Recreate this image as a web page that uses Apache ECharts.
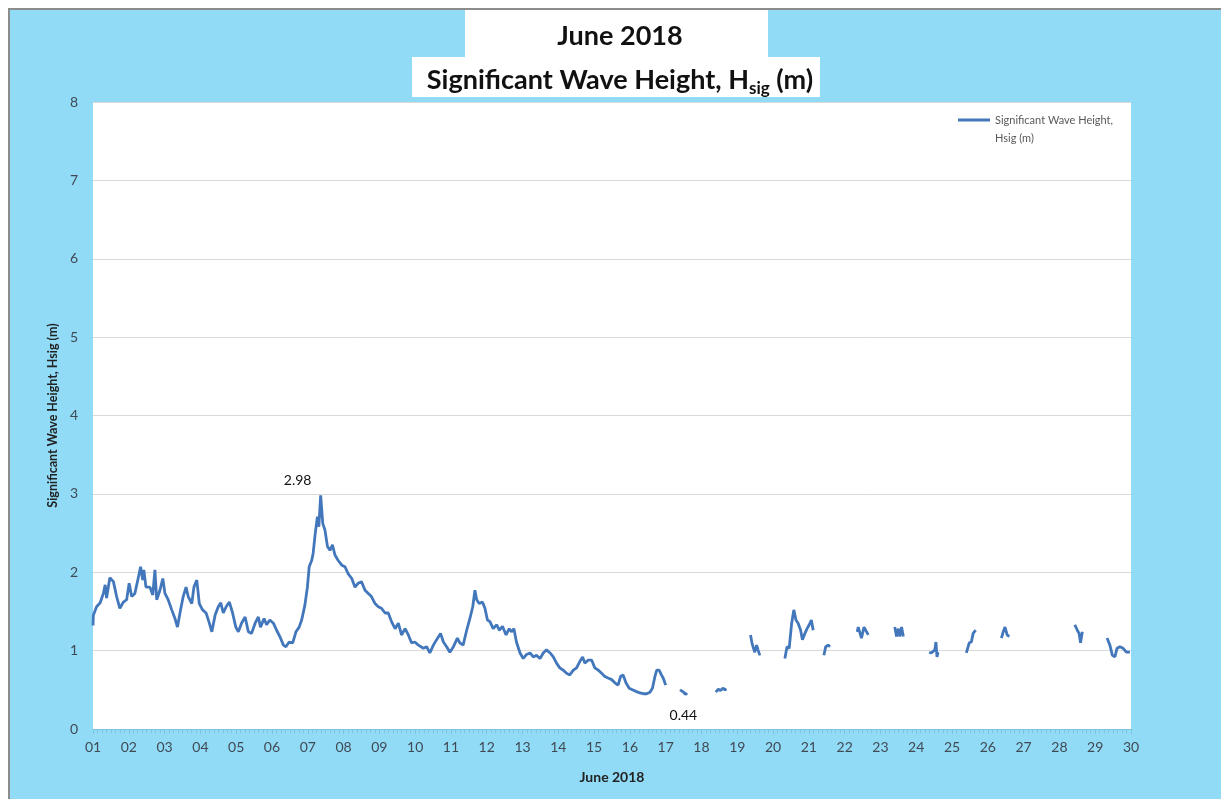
<!DOCTYPE html>
<html>
<head>
<meta charset="utf-8">
<script src="https://cdn.jsdelivr.net/npm/echarts@6/dist/echarts.min.js"></script>
<style>
html,body{margin:0;padding:0;background:#fff;}
#chart{width:1221px;height:799px;}
</style>
</head>
<body>
<div id="chart"></div>
<script>
// Day of month (decimal) and significant wave height (m); null = data gap
const days = [
1.00,1.01,1.10,1.20,1.29,1.34,1.38,1.47,1.57,1.66,1.75,1.85,1.94,2.01,2.08,2.17,2.27,2.33,2.39,2.42,2.48,2.59,2.67,2.73,2.78,2.87,2.95,
3.01,3.10,3.20,3.29,3.36,3.43,3.52,3.60,3.66,3.76,3.82,3.90,3.97,4.06,4.16,4.25,4.32,4.41,4.50,4.57,4.64,4.72,4.81,4.90,4.99,
5.06,5.15,5.25,5.34,5.43,5.53,5.62,5.68,5.78,5.85,5.94,6.04,6.13,6.22,6.32,6.39,6.48,6.58,6.67,6.76,6.83,6.92,6.99,
7.04,7.11,7.15,7.21,7.27,7.31,7.36,7.42,7.48,7.55,7.62,7.69,7.76,7.85,7.95,8.04,8.13,8.23,8.32,8.41,8.50,8.60,8.69,8.78,8.88,8.97,
9.06,9.16,9.25,9.34,9.44,9.53,9.62,9.72,9.81,9.90,9.99,10.09,10.23,10.32,10.41,10.51,10.60,10.71,10.79,10.88,10.97,
11.07,11.18,11.25,11.34,11.44,11.53,11.61,11.67,11.72,11.79,11.88,11.95,12.02,12.09,12.18,12.28,12.35,12.44,12.54,12.63,12.69,12.76,12.83,12.93,
13.02,13.11,13.21,13.30,13.39,13.49,13.58,13.67,13.77,13.86,13.95,14.04,14.14,14.23,14.32,14.42,14.51,14.60,14.68,14.74,14.84,14.93,
15.02,15.12,15.21,15.30,15.39,15.49,15.58,15.67,15.74,15.81,15.89,15.98,16.07,16.17,16.28,16.37,16.47,16.56,16.63,16.70,16.75,16.82,16.88,16.93,17.00,
17.20,
17.40,17.45,17.50,17.55,17.60,
18.00,
18.40,18.47,18.53,18.60,18.66,18.70,
19.00,
19.37,19.41,19.44,19.49,19.54,19.58,19.63,
20.00,
20.33,20.39,20.45,20.52,20.58,20.64,20.70,20.77,20.82,20.89,20.95,21.01,21.07,21.12,
21.25,
21.42,21.47,21.54,21.59,
22.00,
22.35,22.38,22.47,22.54,22.59,22.66,
23.00,
23.40,23.45,23.50,23.54,23.59,23.64,
24.00,
24.36,24.42,24.52,24.55,24.58,24.61,
25.00,
25.40,25.48,25.54,25.59,25.66,
26.00,
26.38,26.43,26.48,26.54,26.60,
27.00,
28.43,28.50,28.55,28.59,28.64,
29.00,
29.33,29.41,29.48,29.55,29.61,29.69,29.78,29.87,29.97
];
const hsig = [
1.32,1.45,1.56,1.61,1.73,1.84,1.67,1.93,1.88,1.69,1.54,1.62,1.65,1.86,1.69,1.73,1.94,2.07,1.90,2.03,1.81,1.81,1.71,2.03,1.65,1.77,1.92,
1.73,1.65,1.52,1.41,1.30,1.48,1.69,1.81,1.69,1.60,1.81,1.90,1.60,1.52,1.48,1.35,1.24,1.45,1.56,1.61,1.48,1.56,1.62,1.48,1.30,
1.24,1.35,1.43,1.24,1.22,1.35,1.43,1.30,1.41,1.33,1.39,1.35,1.26,1.18,1.07,1.05,1.11,1.10,1.24,1.30,1.39,1.58,1.81,
2.07,2.15,2.24,2.50,2.71,2.58,2.98,2.62,2.54,2.33,2.28,2.35,2.22,2.15,2.09,2.07,1.98,1.92,1.81,1.86,1.88,1.77,1.73,1.69,1.60,1.56,
1.54,1.48,1.48,1.37,1.28,1.35,1.20,1.28,1.20,1.10,1.11,1.07,1.03,1.05,0.97,1.07,1.14,1.22,1.11,1.05,0.98,
1.05,1.16,1.10,1.07,1.26,1.41,1.56,1.77,1.65,1.60,1.62,1.54,1.39,1.37,1.28,1.33,1.26,1.31,1.20,1.28,1.24,1.28,1.11,0.97,
0.90,0.95,0.97,0.92,0.94,0.90,0.97,1.01,0.97,0.92,0.84,0.78,0.75,0.71,0.69,0.75,0.78,0.86,0.92,0.84,0.88,0.88,
0.78,0.75,0.71,0.67,0.65,0.63,0.59,0.56,0.67,0.69,0.59,0.52,0.50,0.48,0.46,0.45,0.45,0.47,0.52,0.67,0.75,0.75,0.69,0.65,0.56,
null,
0.50,0.48,0.47,0.44,0.46,
null,
0.47,0.51,0.49,0.52,0.50,0.51,
null,
1.20,1.10,1.05,0.98,1.07,1.01,0.94,
null,
0.90,1.05,1.03,1.35,1.52,1.39,1.35,1.26,1.14,1.22,1.28,1.33,1.39,1.26,
null,
0.94,1.05,1.07,1.05,
null,
1.24,1.30,1.16,1.30,1.28,1.20,
null,
1.30,1.18,1.28,1.18,1.30,1.18,
null,
0.98,0.97,1.01,1.11,0.92,0.98,
null,
0.97,1.10,1.11,1.22,1.26,
null,
1.16,1.24,1.30,1.20,1.18,
null,
1.33,1.26,1.22,1.10,1.24,
null,
1.16,1.07,0.94,0.92,1.03,1.05,1.03,0.98,0.98
];
const xTickDays = [1, 30];
const yTicks = [0, 8];
const annotations = [
  { day: 7.36, value: 2.98, text: '2.98' },
  { day: 17.55, value: 0.44, text: '0.44' }
];

const seriesData = days.map((d, i) => [d, hsig[i] === null ? '-' : hsig[i]]);

const FONT = 'Lato, "Liberation Sans", sans-serif';
const BLUE_BG = '#91dbf6';

const chart = echarts.init(document.getElementById('chart'), null, { renderer: 'canvas' });
chart.setOption({
  animation: false,
  backgroundColor: BLUE_BG,
  graphic: [
    { type: 'rect', shape: { x: 0, y: 0, width: 1221, height: 8 }, style: { fill: '#ffffff' }, silent: true },
    { type: 'rect', shape: { x: 0, y: 0, width: 8, height: 799 }, style: { fill: '#ffffff' }, silent: true },
    { type: 'rect', shape: { x: 8, y: 8, width: 1213, height: 2 }, style: { fill: '#8c8c8c' }, silent: true },
    { type: 'rect', shape: { x: 8, y: 8, width: 2, height: 791 }, style: { fill: '#8c8c8c' }, silent: true },
    { type: 'rect', shape: { x: 465, y: 10, width: 303, height: 48 }, style: { fill: '#ffffff' }, silent: true },
    { type: 'rect', shape: { x: 412, y: 57, width: 408, height: 40 }, style: { fill: '#ffffff' }, silent: true }
  ],
  title: [
    {
      text: 'June 2018',
      left: 615, textAlign: 'center', top: 18,
      textStyle: { fontFamily: FONT, fontSize: 27, fontWeight: 'bold', color: '#111' }
    },
    {
      text: '{a|Significant Wave Height, H}{s|sig}{a| (m)}',
      left: 615, textAlign: 'center', top: 59,
      textStyle: {
        rich: {
          a: { fontFamily: FONT, fontSize: 27, fontWeight: 'bold', color: '#111', lineHeight: 33 },
          s: { fontFamily: FONT, fontSize: 17, fontWeight: 'bold', color: '#111', padding: [16, 0, 0, 0] }
        }
      }
    }
  ],
  legend: {
    left: 953, top: 88,
    itemWidth: 32, itemHeight: 3,
    icon: 'rect',
    data: ['Significant Wave Height, Hsig (m)'],
    formatter: () => ' \nSignificant Wave Height,\nHsig (m)',
    textStyle: { fontFamily: FONT, fontSize: 11, color: '#595959', lineHeight: 18 }
  },
  grid: {
    left: 93, right: 90, top: 102, bottom: 70,
    show: true, backgroundColor: '#ffffff', borderWidth: 0
  },
  xAxis: {
    type: 'value',
    min: xTickDays[0], max: xTickDays[1], interval: 1,
    name: 'June 2018', nameLocation: 'middle', nameGap: 41,
    nameTextStyle: { fontFamily: FONT, fontSize: 14, fontWeight: 'bold', color: '#222' },
    axisLine: { show: true, lineStyle: { color: '#7cc3e0', width: 1 } },
    axisTick: { show: true, length: 5, lineStyle: { color: '#7cc3e0' } },
    minorTick: { show: true, splitNumber: 8, length: 4, lineStyle: { color: '#7cc3e0' } },
    axisLabel: {
      fontFamily: FONT, fontSize: 14, color: '#404a55', margin: 11,
      formatter: v => String(v).padStart(2, '0')
    },
    splitLine: { show: false }
  },
  yAxis: {
    type: 'value',
    min: yTicks[0], max: yTicks[1], interval: 1,
    name: 'Significant Wave Height, Hsig (m)', nameLocation: 'middle', nameGap: 27,
    nameTextStyle: { fontFamily: FONT, fontSize: 12.5, fontWeight: 'bold', color: '#222' },
    axisLine: { show: false },
    axisTick: { show: false },
    axisLabel: { fontFamily: FONT, fontSize: 14, color: '#404a55', margin: 15 },
    splitLine: { show: true, lineStyle: { color: '#d9d9d9', width: 1 } }
  },
  series: [{
    name: 'Significant Wave Height, Hsig (m)',
    type: 'line',
    data: seriesData,
    showSymbol: false,
    connectNulls: false,
    lineStyle: { color: '#4377bb', width: 2.8 },
    itemStyle: { color: '#4377bb' },
    markPoint: {
      symbol: 'circle', symbolSize: 0,
      label: { show: true, fontFamily: FONT, fontSize: 14, color: '#111', formatter: p => p.name },
      data: [
        { name: annotations[0].text, coord: [annotations[0].day, annotations[0].value], label: { offset: [-23, -15] } },
        { name: annotations[1].text, coord: [annotations[1].day, annotations[1].value], label: { offset: [-2, 21] } }
      ]
    }
  }]
});
</script>
</body>
</html>
